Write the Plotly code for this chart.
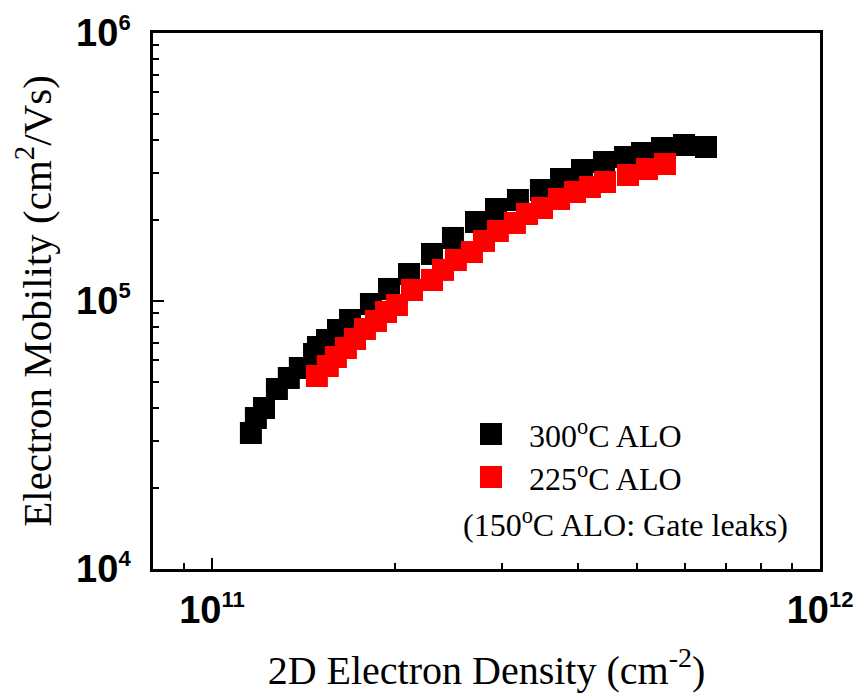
import plotly.graph_objects as go

# 2D electron density (cm^-2) and electron mobility (cm^2/Vs)
density_300 = [1.159e11, 1.181e11, 1.218e11, 1.279e11, 1.338e11, 1.395e11, 1.472e11,
               1.494e11, 1.546e11, 1.612e11, 1.687e11, 1.826e11, 1.955e11, 2.109e11,
               2.301e11, 2.491e11, 2.718e11, 2.932e11, 3.186e11, 3.476e11, 3.750e11,
               4.061e11, 4.413e11, 4.779e11, 5.096e11, 5.497e11, 5.975e11, 6.494e11]
mobility_300 = [32170, 36600, 39870, 46950, 51620, 56230, 63420,
                67350, 71540, 77960, 84940, 97450, 110900, 126100,
                149800, 171900, 197100, 220400, 238200, 259600, 285300,
                308200, 330200, 344500, 356600, 372300, 382000, 375500]

density_225 = [1.488e11, 1.551e11, 1.599e11, 1.661e11, 1.719e11, 1.785e11, 1.861e11,
               1.933e11, 2.015e11, 2.133e11, 2.301e11, 2.399e11, 2.519e11, 2.677e11,
               2.802e11, 2.953e11, 3.150e11, 3.297e11, 3.490e11, 3.722e11, 3.954e11,
               4.185e11, 4.430e11, 4.833e11, 5.194e11, 5.560e11]
mobility_225 = [52500, 57210, 61800, 66760, 72150, 78620, 84230,
                91000, 96630, 109900, 119800, 130600, 142200, 152300,
                167500, 182500, 195500, 211200, 222300, 240200, 255100,
                266300, 278000, 295200, 310700, 324500]

x_tickvals = [1e11, 1e12]
x_exponents = ["11", "12"]
y_tickvals = [1e4, 1e5, 1e6]
y_exponents = ["4", "5", "6"]

legend_labels = ["300<sup>o</sup>C ALO", "225<sup>o</sup>C ALO"]
legend_colors = ["black", "red"]
note_text = "(150<sup>o</sup>C ALO: Gate leaks)"


def power_label(exp):
    return "10<sup><span style='font-size:22px'>" + exp + "</span></sup>"


W, H = 859, 694
L, R, T, B = 153, 39, 33, 125
PW, PH = W - L - R, H - T - B


def px(xp):
    return (xp - L) / PW


def py(yp):
    return (H - B - yp) / PH


fig = go.Figure()
fig.add_trace(go.Scatter(x=density_300, y=mobility_300, mode="markers",
                         marker=dict(symbol="square", size=22, color="black", line=dict(width=0)),
                         name="300 C ALO", showlegend=False))
fig.add_trace(go.Scatter(x=density_225, y=mobility_225, mode="markers",
                         marker=dict(symbol="square", size=22, color="red", line=dict(width=0)),
                         name="225 C ALO", showlegend=False))

serif = "Liberation Serif, Times New Roman, serif"
sans = "Liberation Sans, Arial, sans-serif"

axis_common = dict(
    type="log", showgrid=False, zeroline=False,
    showline=True, linecolor="black", linewidth=2.5, mirror=True,
    ticks="inside", ticklen=11, tickwidth=2, tickcolor="black",
    tickmode="array",
    tickfont=dict(family=sans, size=38, color="black", weight="bold"),
    minor=dict(ticks="inside", ticklen=6, tickwidth=2, tickcolor="black", dtick="D1", showgrid=False),
)

fig.update_xaxes(**axis_common, range=[10.90309, 12.0], tickvals=x_tickvals,
                 ticktext=[power_label(e) for e in x_exponents],
                 ticklabelstandoff=6,
                 title=dict(text="2D Electron Density (cm<sup>-2</sup>)",
                            font=dict(family=serif, size=40, color="black"), standoff=26))
fig.update_yaxes(**axis_common, range=[4, 6], tickvals=y_tickvals,
                 ticktext=[power_label(e) for e in y_exponents],
                 ticklabelstandoff=12,
                 title=dict(text="Electron Mobility (cm<sup>2</sup>/Vs)",
                            font=dict(family=serif, size=41, color="black"), standoff=12))

# legend swatches and labels
rows_y = [434, 477]
for yc, col, lab in zip(rows_y, legend_colors, legend_labels):
    fig.add_shape(type="rect", xref="paper", yref="paper",
                  x0=px(480), x1=px(502), y0=py(yc + 11), y1=py(yc - 11),
                  fillcolor=col, line=dict(width=0))
    fig.add_annotation(xref="paper", yref="paper", x=px(527), y=py(yc), text=lab,
                       showarrow=False, xanchor="left", yanchor="middle",
                       font=dict(family=serif, size=32, color="black"))
fig.add_annotation(xref="paper", yref="paper", x=px(461), y=py(523), text=note_text,
                   showarrow=False, xanchor="left", yanchor="middle",
                   font=dict(family=serif, size=32, color="black"))

fig.update_layout(width=W, height=H, margin=dict(l=L, r=R, t=T, b=B, autoexpand=False),
                  plot_bgcolor="white", paper_bgcolor="white", showlegend=False)

fig.write_html("out.html")
